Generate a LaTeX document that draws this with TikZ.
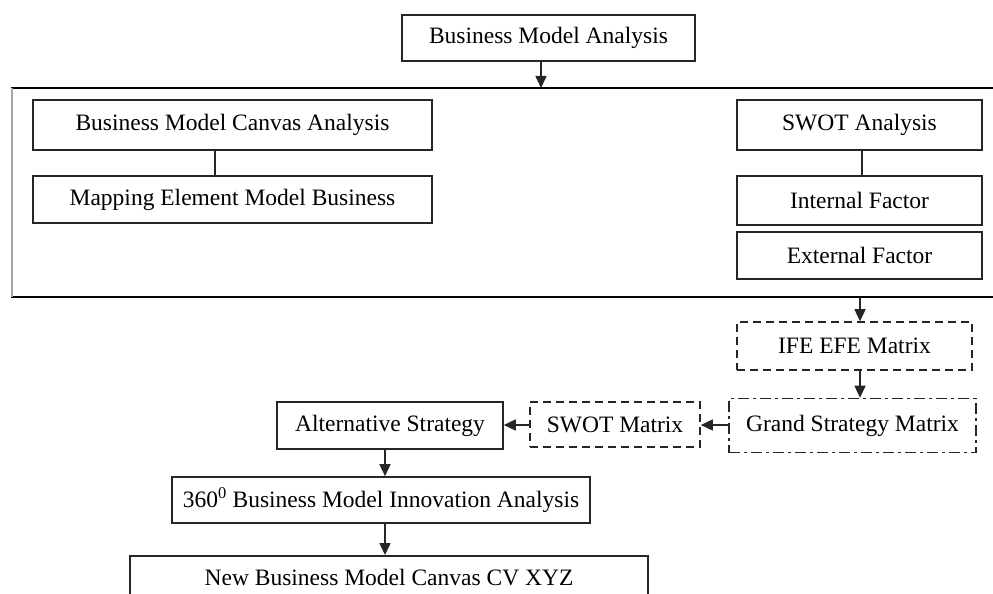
\documentclass[tikz,border=0pt]{standalone}
\usepackage{fontspec}
\setmainfont{Liberation Serif}
\usetikzlibrary{arrows.meta}
\begin{document}
\begin{tikzpicture}[x=1pt,y=-1pt,
  box/.style={draw=black!85,line width=1.6pt,fill=white,inner sep=0pt,font=\fontsize{23.5}{27}\selectfont},
  dbox/.style={box,dash pattern=on 8pt off 5pt},
  ddbox/.style={box,dash pattern=on 11pt off 4pt on 3pt off 4pt},
  conn/.style={line width=1.6pt,black!85},
  arr/.style={conn,-{Triangle[width=11pt,length=12pt]}}]
\useasboundingbox (0,0) rectangle (993,594);
\clip (0,0) rectangle (993,594);
% frame
\draw[line width=1.8pt] (11,88) -- (1000,88);
\draw[line width=1.8pt] (11,297) -- (1000,297);
\draw[line width=1.2pt,black!35] (12,88) -- (12,297);
% nodes
\node[box,minimum width=293pt,minimum height=46pt] (bma) at (548.5,38) {Business Model Analysis};
\coordinate (ftop) at (541,88);
\node[box,minimum width=399pt,minimum height=50pt] (bmca) at (232.5,125) {Business Model Canvas Analysis};
\node[box,minimum width=399pt,minimum height=47pt] (meb) at (232.5,199.5) {Mapping Element Model Business};
\node[box,minimum width=245pt,minimum height=50pt] (swot) at (859.5,125) {SWOT Analysis};
\node[box,minimum width=245pt,minimum height=49pt] (inf) at (859.5,200.5) {Internal Factor};
\node[box,minimum width=245pt,minimum height=47pt] (exf) at (859.5,255.5) {External Factor};
\coordinate (fbot) at (860,297);
\node[dbox,minimum width=235pt,minimum height=48pt] (ife) at (854.5,346) {IFE EFE Matrix};
\node[ddbox,minimum width=247pt,minimum height=54pt] (gsm) at (852.5,425.5) {Grand Strategy Matrix};
\node[dbox,minimum width=170pt,minimum height=45pt] (swm) at (615,424.5) {SWOT Matrix};
\node[box,minimum width=226pt,minimum height=47pt] (alt) at (390,425.5) {Alternative Strategy};
\node[box,minimum width=418pt,minimum height=46pt] (bmi) at (381,500) {360\textsuperscript{0} Business Model Innovation Analysis};
\node[box,minimum width=518pt,minimum height=80pt,anchor=north] (nbm) at (389,555) {};
\node[font=\fontsize{23.5}{27}\selectfont] (nbmt) at (389,578) {New Business Model Canvas CV XYZ};
% connectors
\draw[arr] (bma.south -| ftop) -- (ftop);
\draw[conn] (bmca.south -| 215,0) -- (meb.north -| 215,0);
\draw[conn] (swot.south -| 862,0) -- (inf.north -| 862,0);
\draw[arr] (fbot) -- (ife.north -| fbot);
\draw[arr] (ife.south -| 860,0) -- (gsm.north -| 860,0);
\draw[arr] (gsm.west |- 0,425) -- (swm.east |- 0,425);
\draw[arr] (swm.west |- 0,425) -- (alt.east |- 0,425);
\draw[arr] (alt.south -| 385,0) -- (bmi.north -| 385,0);
\draw[arr] (bmi.south -| 385,0) -- (nbm.north -| 385,0);
\end{tikzpicture}
\end{document}
